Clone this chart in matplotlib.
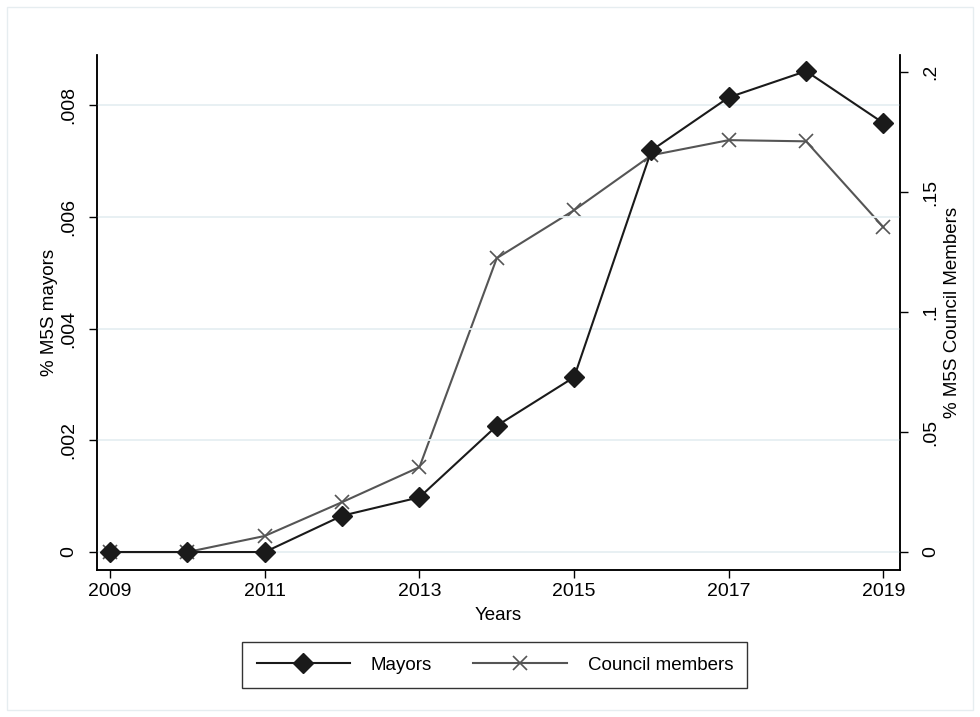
import matplotlib
matplotlib.use("Agg")
import matplotlib.pyplot as plt
from matplotlib.patches import Rectangle

plt.rcParams['font.family'] = ['Liberation Sans', 'DejaVu Sans']

years = [2009, 2010, 2011, 2012, 2013, 2014, 2015, 2016, 2017, 2018, 2019]
mayors = [0, 0, 0, 0.00065, 0.00098, 0.00226, 0.00313, 0.00719, 0.00814, 0.00861, 0.00768]
council = [0, 0, 0.0067, 0.0208, 0.0354, 0.1225, 0.1425, 0.1654, 0.1717, 0.1712, 0.1354]
left_ticks = [0, 0.002, 0.004, 0.006, 0.008]
left_labels = ['0', '.002', '.004', '.006', '.008']
right_ticks = [0, 0.05, 0.1, 0.15, 0.2]
right_labels = ['0', '.05', '.1', '.15', '.2']
x_ticks = [2009, 2011, 2013, 2015, 2017, 2019]

fig = plt.figure(figsize=(9.8, 7.17), dpi=100)
fig.patches.append(Rectangle((0.007, 0.01), 0.986, 0.98, transform=fig.transFigure,
                             fill=False, edgecolor='#e6edf0', linewidth=1))

ax = fig.add_axes([0.099, 0.205, 0.819, 0.718])
ax2 = ax.twinx()

# grid lines on the left axis ticks
for t in left_ticks:
    ax.axhline(t, color='#e6eff2', linewidth=1.3, zorder=0)

l1, = ax.plot(years, mayors, color='#1a1a1a', marker='D', markersize=10,
              linewidth=1.5, zorder=3, label='Mayors')
l2, = ax2.plot(years, council, color='#555555', marker='x', markersize=10,
               markeredgewidth=1.2, linewidth=1.5, zorder=2, label='Council members')

ax.set_xlim(2008.83, 2019.21)
ax.set_ylim(-0.000322, 0.008895)
ax2.set_ylim(-0.0075, 0.2071)

ax.set_xticks(x_ticks)
ax.set_yticks(left_ticks)
ax.set_yticklabels(left_labels, rotation=90, va='center')
ax2.set_yticks(right_ticks)
ax2.set_yticklabels(right_labels, rotation=90, va='center')

for a in (ax, ax2):
    a.spines['top'].set_visible(False)
    a.tick_params(direction='out', length=6, width=1, labelsize=14, color='black')
    for s in a.spines.values():
        s.set_linewidth(1.1)
ax.tick_params(axis='y', pad=8)
ax2.tick_params(axis='y', pad=10)

ax.set_xlabel('Years', fontsize=13.5, labelpad=5)
ax.set_ylabel('% M5S mayors', fontsize=13.5, labelpad=2)
ax2.set_ylabel('% M5S Council Members', fontsize=13.5, labelpad=4)

ax.set_zorder(ax2.get_zorder() + 1)
ax.patch.set_visible(False)

leg = fig.legend([l1, l2], ['Mayors', 'Council members'], loc='center',
                 bbox_to_anchor=(0.505, 0.0725), ncol=2, fontsize=13.5,
                 frameon=True, fancybox=False, edgecolor='black',
                 handlelength=5.0, columnspacing=2.2, borderpad=0.75, handletextpad=1.1)
leg.get_frame().set_linewidth(1)

fig.savefig('out.png', dpi=100)
